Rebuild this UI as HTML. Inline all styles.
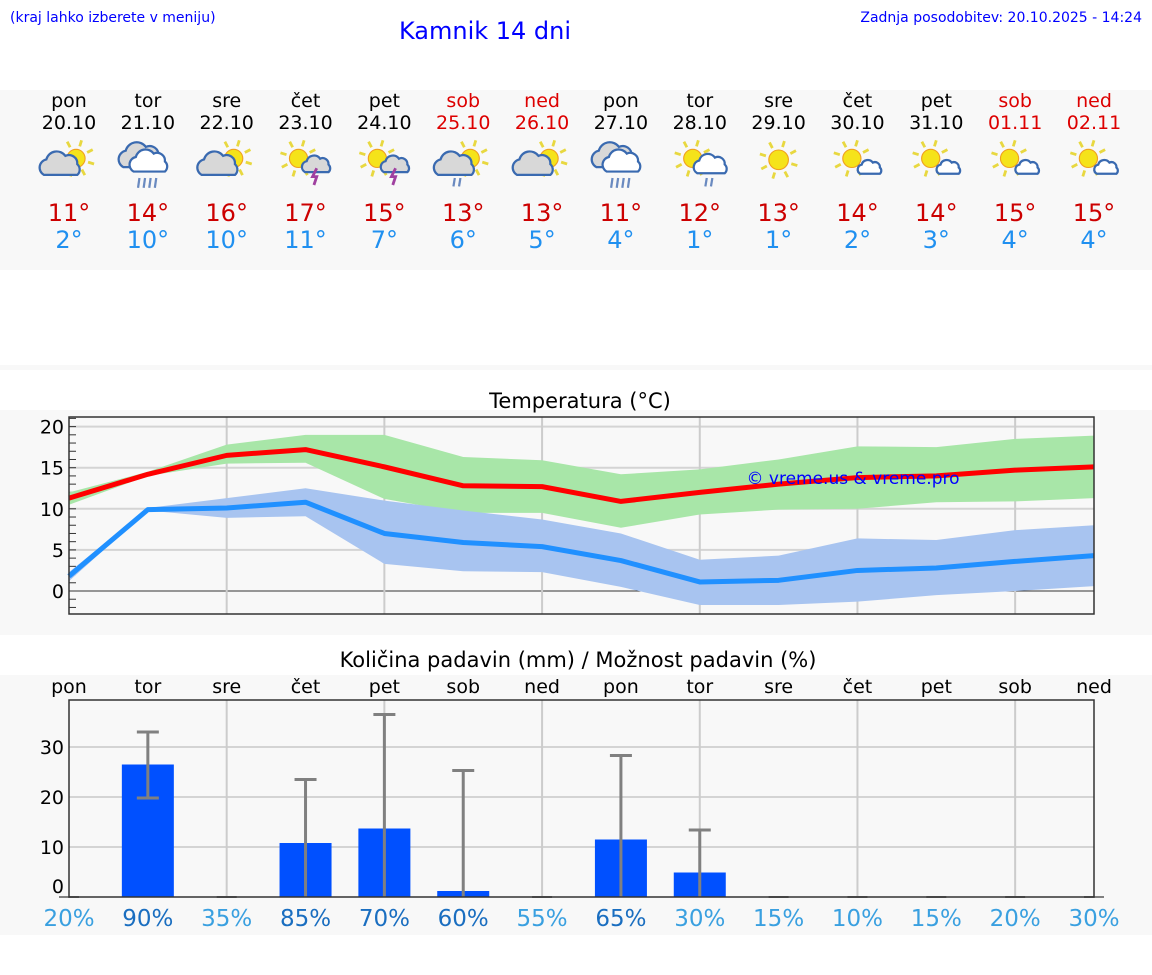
<!DOCTYPE html>
<html><head><meta charset="utf-8"><style>
body{margin:0;width:1152px;height:975px;background:#fff;font-family:"DejaVu Sans","Liberation Sans",sans-serif;overflow:hidden}
svg{display:block}
</style></head><body>
<svg id="s" width="1152" height="975" xmlns="http://www.w3.org/2000/svg" font-family="DejaVu Sans, Liberation Sans, sans-serif">
<rect x="0" y="90" width="1152" height="180" fill="#f8f8f8"/>
<rect x="0" y="365" width="1152" height="5" fill="#f8f8f8"/>
<rect x="0" y="410" width="1152" height="225" fill="#f8f8f8"/>
<rect x="0" y="675" width="1152" height="260" fill="#f8f8f8"/>
<text x="10" y="22" font-size="14" fill="#0000ff">(kraj lahko izberete v meniju)</text>
<text x="485" y="39" font-size="24" fill="#0000ff" text-anchor="middle">Kamnik 14 dni</text>
<text x="1142" y="22" font-size="14" fill="#0000ff" text-anchor="end">Zadnja posodobitev: 20.10.2025 - 14:24</text>
<text x="580" y="408" font-size="21" text-anchor="middle">Temperatura (°C)</text>
<text x="578" y="667" font-size="21" text-anchor="middle">Količina padavin (mm) / Možnost padavin (%)</text>
<g id="g"></g>
</svg>
<script>
const days=["pon","tor","sre","čet","pet","sob","ned","pon","tor","sre","čet","pet","sob","ned"];
const dates=["20.10","21.10","22.10","23.10","24.10","25.10","26.10","27.10","28.10","29.10","30.10","31.10","01.11","02.11"];
const icons=["sc","rain","sc","storm","storm","scr","sc","rain","swr","sun","ssc","ssc","ssc","ssc"];
const hiLabels=[11,14,16,17,15,13,13,11,12,13,14,14,15,15];
const loLabels=[2,10,10,11,7,6,5,4,1,1,2,3,4,4];
const tMax=[11.3,14.2,16.5,17.2,15.1,12.8,12.7,10.9,12,13,13.8,14,14.7,15.1];
const tMaxHi=[12,14.5,17.8,19,19,16.3,15.9,14.2,14.8,16,17.6,17.5,18.5,18.9];
const tMaxLo=[10.5,14,15.5,15.6,11.2,9.5,9.5,7.7,9.3,9.9,10,10.8,10.9,11.3];
const tMin=[1.8,9.9,10.1,10.8,7.0,5.9,5.4,3.7,1.1,1.3,2.5,2.8,3.6,4.3];
const tMinHi=[2.3,10.1,11.3,12.5,11,9.8,8.7,7,3.8,4.3,6.4,6.2,7.4,8];
const tMinLo=[1.2,9.8,8.9,9.1,3.3,2.4,2.3,0.5,-1.7,-1.7,-1.3,-0.5,0,0.6];
const tTicks=[0,5,10,15,20];
const rain=[0,26.5,0,10.8,13.7,1.2,0,11.5,4.9,0,0,0,0,0];
const rainHi=[0,33,0,23.5,36.5,25.3,0,28.3,13.4,0,0,0,0,0];
const rainLo=[0,19.8,0,0,0,0,0,0,0,0,0,0,0,0];
const chance=[20,90,35,85,70,60,55,65,30,15,10,15,20,30];
const rTicks=[0,10,20,30];

const NS="http://www.w3.org/2000/svg",G=document.getElementById('g');
function el(t,a,p){const e=document.createElementNS(NS,t);for(const k in a)e.setAttribute(k,a[k]);(p||G).appendChild(e);return e;}
const X=i=>69+i*(1025/13);
const TY=v=>591-v*8.22;
const RY=v=>897-v*5;
const weekend=i=>days[i]=="sob"||days[i]=="ned";

days.forEach((d,i)=>{
 const c=weekend(i)?"#dd0000":"#000";
 let t=el('text',{x:X(i),y:107,'font-size':19,'text-anchor':'middle',fill:c});t.textContent=d;
 
 t=el('text',{x:X(i),y:129,'font-size':19,'text-anchor':'middle',fill:c});t.textContent=dates[i];
 
 t=el('text',{x:X(i),y:221,'font-size':24,'text-anchor':'middle',fill:"#cc0000"});t.textContent=hiLabels[i]+"°";
 
 t=el('text',{x:X(i),y:248,'font-size':24,'text-anchor':'middle',fill:"#2090f0"});t.textContent=loLabels[i]+"°";
 
 const g=el('g',{transform:`translate(${X(i)},164) scale(1.4)`});
 
 drawIcon(g,icons[i]);
});
function sun(g,cx,cy,r){
 for(let k=0;k<8;k++){const a=k*Math.PI/4+0.3;el('line',{x1:cx+Math.cos(a)*(r+2.5),y1:cy+Math.sin(a)*(r+2.5),x2:cx+Math.cos(a)*(r+7),y2:cy+Math.sin(a)*(r+7),stroke:"#e8d840",'stroke-width':2},g);}
 el('circle',{cx,cy,r,fill:"#f5e31a",stroke:"#f0a020",'stroke-width':0.8},g);
}
function cloud(g,cx,cy,s,fill){
 el('path',{d:`M${cx-14*s},${cy+8*s} a${7*s} ${7*s} 0 0 1 ${2*s},${-13*s} a${9*s} ${9*s} 0 0 1 ${16*s},${-3*s} a${7*s} ${7*s} 0 0 1 ${10*s},${7*s} a${6*s} ${6*s} 0 0 1 0,${9*s} z`,fill,stroke:"#3a6ab0",'stroke-width':1.6},g);
}
function drawIcon(g,t){
 if(t=="sc"){sun(g,5,-4,6.5);cloud(g,-6,1,0.85,"#d8d8d8");}
 else if(t=="rain"){cloud(g,-5,-5,0.9,"#d8d8d8");cloud(g,1,-1,0.8,"#fff");for(let k=0;k<4;k++)el('line',{x1:-6+k*4,y1:10,x2:-7+k*4,y2:17,stroke:"#6a8ac0",'stroke-width':1.6},g);}
 else if(t=="storm"){sun(g,-5,-4,6.5);cloud(g,8,1,0.6,"#d8d8d8");el('path',{d:"M8,3 l-3,6 h3 l-2,6",fill:"none",stroke:"#a040a0",'stroke-width':2},g);}
 else if(t=="scr"){sun(g,5,-4,6.5);cloud(g,-6,1,0.85,"#d8d8d8");for(let k=0;k<2;k++)el('line',{x1:-6+k*4,y1:10,x2:-7+k*4,y2:16,stroke:"#6a8ac0",'stroke-width':1.6},g);}
 else if(t=="swr"){sun(g,-5,-4,6.5);cloud(g,8,1,0.7,"#fff");for(let k=0;k<2;k++)el('line',{x1:5+k*4,y1:10,x2:4+k*4,y2:16,stroke:"#6a8ac0",'stroke-width':1.6},g);}
 else if(t=="sun"){sun(g,0,-3,7);}
 else {sun(g,-4,-4,6.5);cloud(g,9,3,0.5,"#fff");}
}

el('rect',{x:69,y:417,width:1025,height:197,fill:"#f8f8f8",stroke:"none"});
tTicks.forEach(v=>{el('line',{x1:69,x2:1094,y1:TY(v),y2:TY(v),stroke:v==0?"#333":"#d4d4d4",'stroke-width':v==0?1:2});
 const t=el('text',{x:64,y:TY(v)+7,'font-size':19,'text-anchor':'end'});t.textContent=v;});
for(let v=-2;v<=21;v++)el('line',{x1:69,x2:76,y1:TY(v),y2:TY(v),stroke:"#333",'stroke-width':1});
for(let i=2;i<14;i+=2)el('line',{x1:X(i),x2:X(i),y1:417,y2:614,stroke:"#ccc",'stroke-width':2});
function band(hi,lo,fill,name){const p=hi.map((v,i)=>X(i)+","+TY(v)).concat(lo.map((v,i)=>X(i)+","+TY(v)).reverse());
 const e=el('polygon',{points:p.join(" "),fill});}
band(tMaxHi,tMaxLo,"#a8e6a8","max-temp-range");
band(tMinHi,tMinLo,"#a8c4f0","min-temp-range");
function line(v,c,name){const e=el('polyline',{points:v.map((y,i)=>X(i)+","+TY(y)).join(" "),fill:"none",stroke:c,'stroke-width':5,'stroke-linejoin':'round'});}
line(tMax,"#ff0000","max-temp-line");line(tMin,"#2090ff","min-temp-line");
el('rect',{x:69,y:417,width:1025,height:197,fill:"none",stroke:"#333",'stroke-width':1.5});
let wm=el('text',{x:853,y:484,'font-size':17,'text-anchor':'middle',fill:"#0000ff"});wm.textContent="© vreme.us & vreme.pro";


el('rect',{x:69,y:700,width:1025,height:197,fill:"#f8f8f8"});
rTicks.forEach(v=>{if(v>0)el('line',{x1:69,x2:1094,y1:RY(v),y2:RY(v),stroke:"#d4d4d4",'stroke-width':2});
 const t=el('text',{x:64,y:RY(v)+(v==0?-4:7),'font-size':19,'text-anchor':'end'});t.textContent=v;});
for(let i=2;i<14;i+=2)el('line',{x1:X(i),x2:X(i),y1:700,y2:897,stroke:"#ccc",'stroke-width':2});
days.forEach((d,i)=>{
 let t=el('text',{x:X(i),y:693,'font-size':19,'text-anchor':'middle'});t.textContent=d;
 if(rain[i]>0){const b=el('rect',{x:X(i)-26,y:RY(rain[i]),width:52,height:RY(0)-RY(rain[i]),fill:"#0050ff"});}
 if(rainHi[i]>0){const e=el('g',{stroke:"#808080",'stroke-width':3});
  el('line',{x1:X(i),x2:X(i),y1:RY(rainHi[i]),y2:RY(rainLo[i])},e);
  el('line',{x1:X(i)-11,x2:X(i)+11,y1:RY(rainHi[i]),y2:RY(rainHi[i])},e);
  if(rainLo[i]>0)el('line',{x1:X(i)-11,x2:X(i)+11,y1:RY(rainLo[i]),y2:RY(rainLo[i])},e);
 } else el('line',{x1:X(i)-10,x2:X(i)+10,y1:897,y2:897,stroke:"#808080",'stroke-width':2});
 t=el('text',{x:X(i),y:926,'font-size':23,'text-anchor':'middle',fill:chance[i]>=60?"#1a6ec0":"#3aa0e0"});t.textContent=chance[i]+"%";
 
});
el('rect',{x:69,y:700,width:1025,height:197,fill:"none",stroke:"#333",'stroke-width':1.5});
</script>
</body></html>
